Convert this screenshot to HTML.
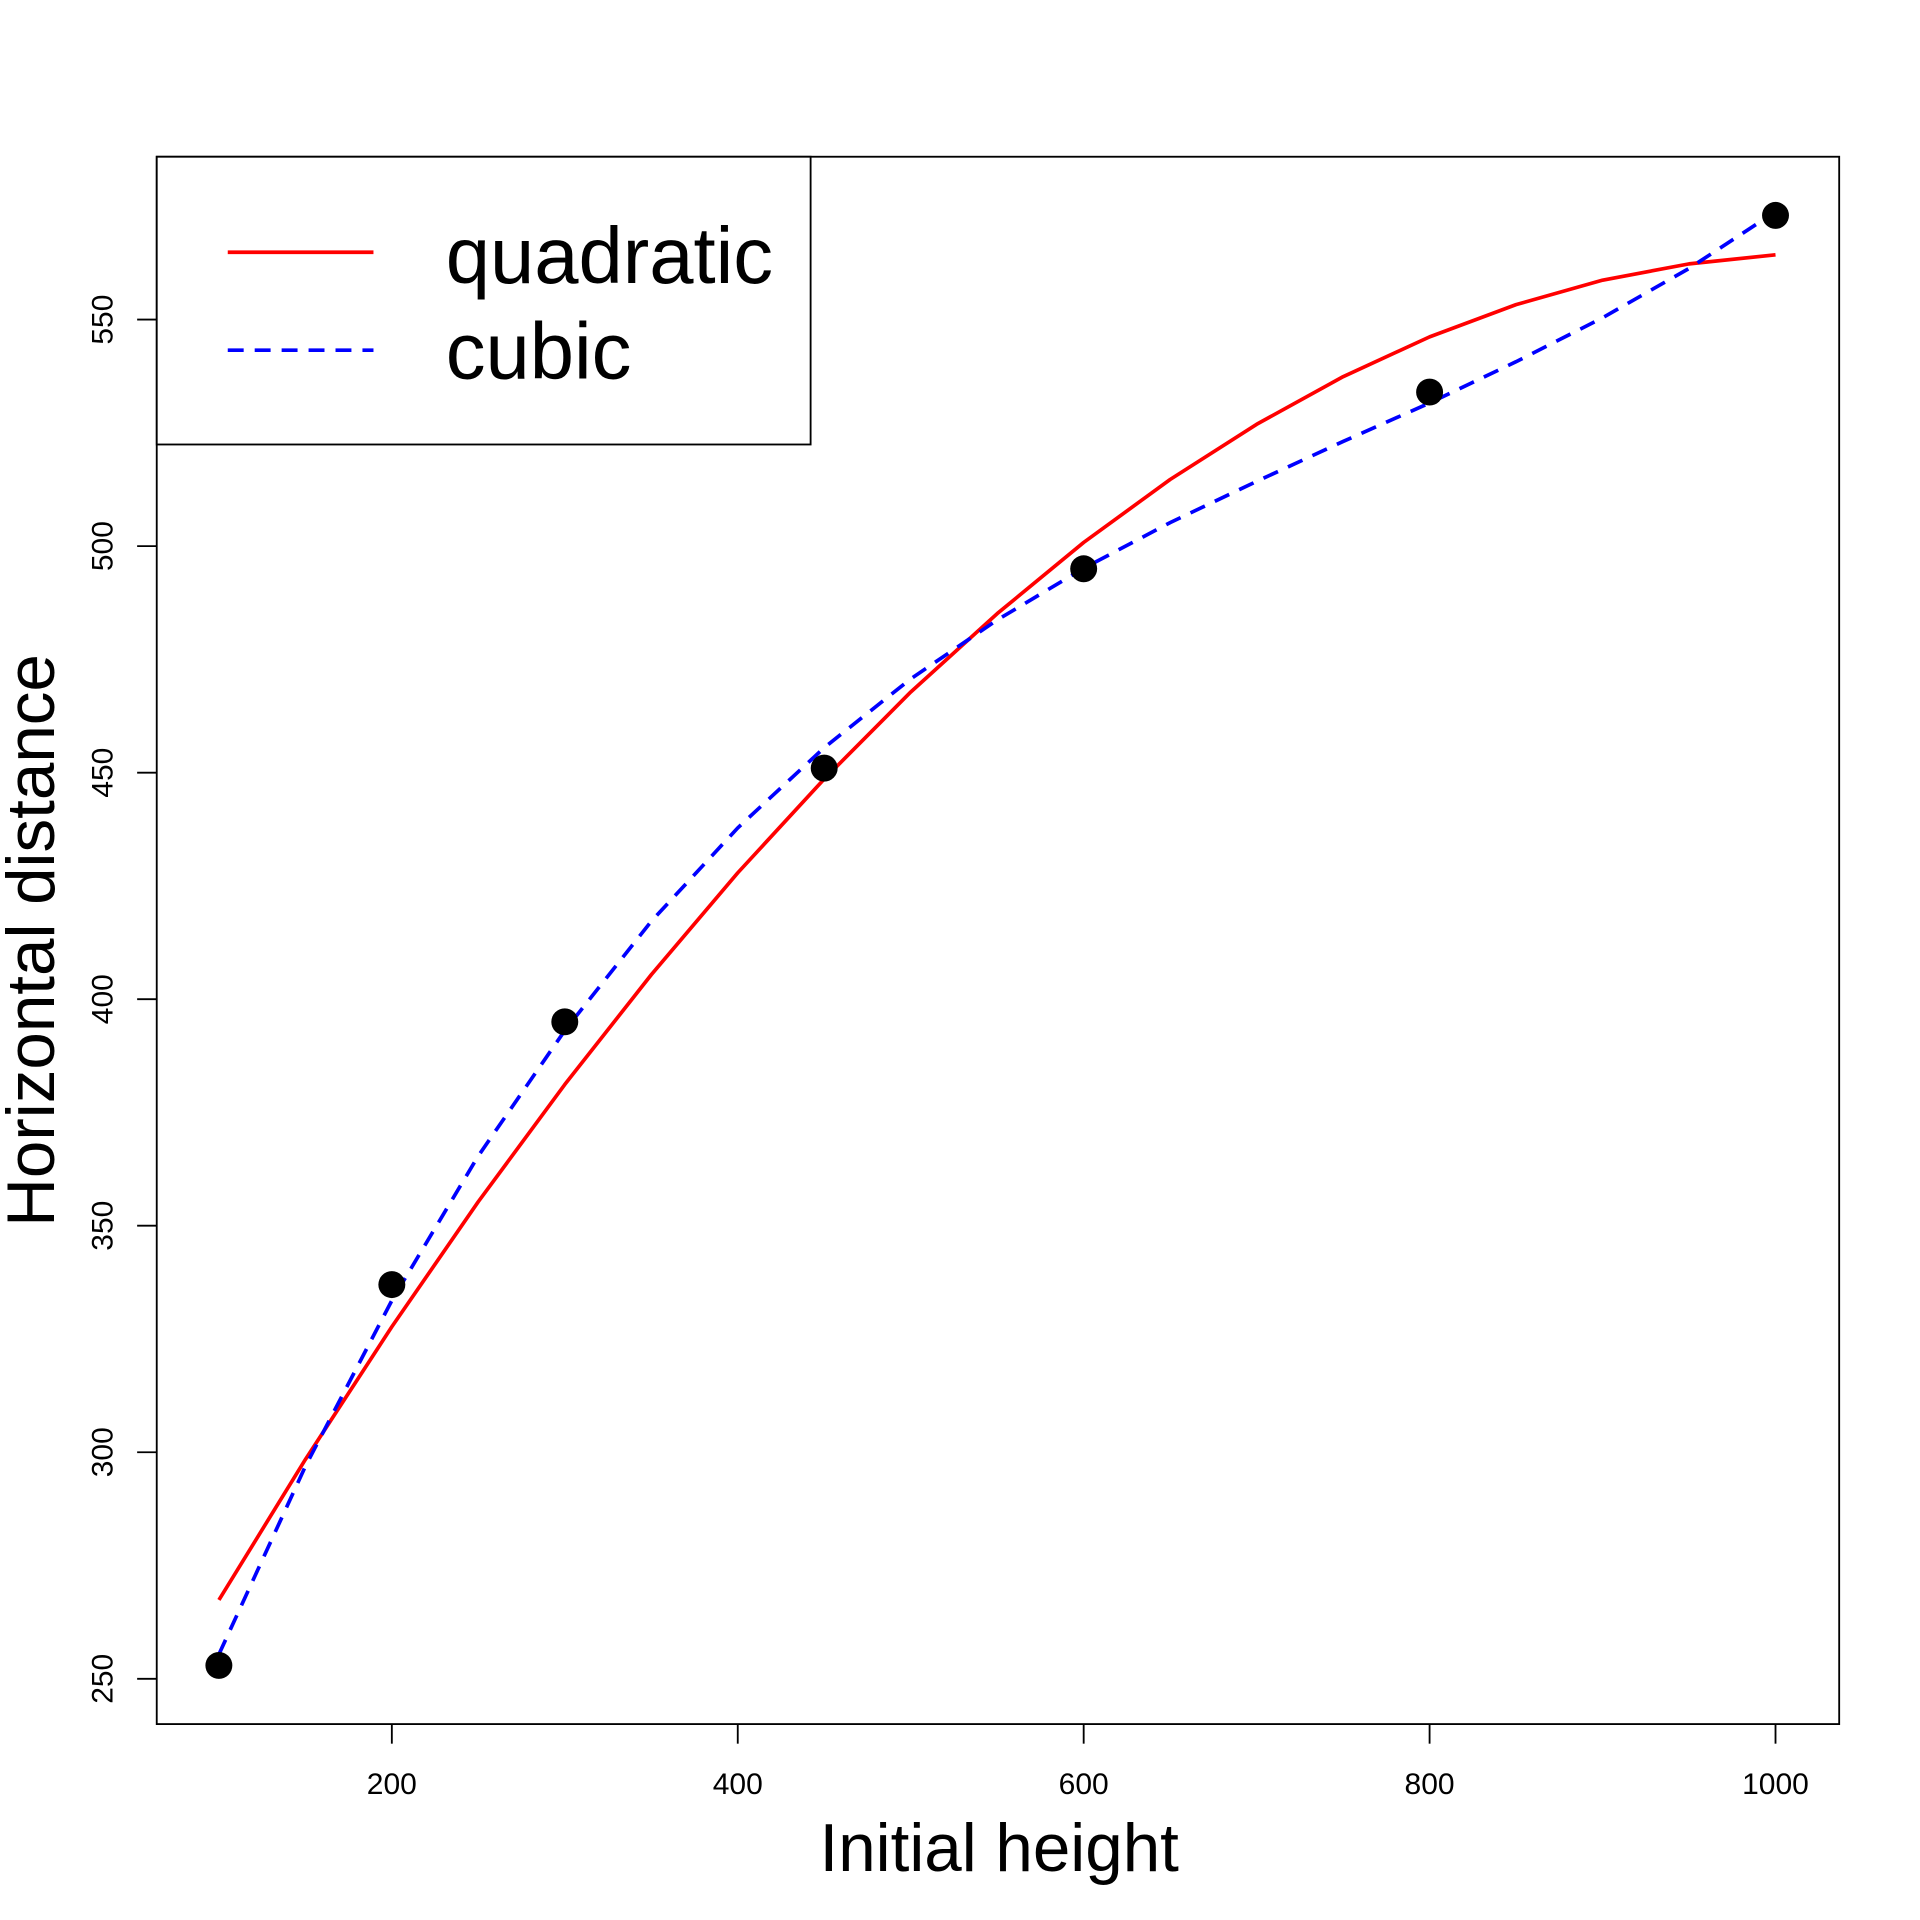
<!DOCTYPE html>
<html><head><meta charset="utf-8"><style>html,body{margin:0;padding:0;background:#fff}svg{display:block}</style></head>
<body>
<svg width="1920" height="1920" viewBox="0 0 1568 1568" xmlns="http://www.w3.org/2000/svg" font-family="Liberation Sans, Arial, sans-serif">
<rect width="1568" height="1568" fill="#fff"/>
<rect x="128" y="128" width="1374" height="1280" fill="none" stroke="#000" stroke-width="1.5"/>
<g stroke="#000" stroke-width="1.5">
<line x1="320" y1="1408" x2="320" y2="1424"/><line x1="602.5" y1="1408" x2="602.5" y2="1424"/><line x1="885" y1="1408" x2="885" y2="1424"/><line x1="1167.5" y1="1408" x2="1167.5" y2="1424"/><line x1="1450" y1="1408" x2="1450" y2="1424"/>
<line x1="112" y1="1371" x2="128" y2="1371"/><line x1="112" y1="1186" x2="128" y2="1186"/><line x1="112" y1="1001" x2="128" y2="1001"/><line x1="112" y1="816" x2="128" y2="816"/><line x1="112" y1="631" x2="128" y2="631"/><line x1="112" y1="446" x2="128" y2="446"/><line x1="112" y1="261" x2="128" y2="261"/>
</g>
<g font-size="24.5" text-anchor="middle" fill="#000">
<text x="320" y="1465">200</text><text x="602.5" y="1465">400</text><text x="885" y="1465">600</text><text x="1167.5" y="1465">800</text><text x="1450" y="1465">1000</text>
<g transform="translate(92,0)">
<text transform="translate(0,1371) rotate(-90)">250</text><text transform="translate(0,1186) rotate(-90)">300</text><text transform="translate(0,1001) rotate(-90)">350</text><text transform="translate(0,816) rotate(-90)">400</text><text transform="translate(0,631) rotate(-90)">450</text><text transform="translate(0,446) rotate(-90)">500</text><text transform="translate(0,261) rotate(-90)">550</text>
</g>
</g>
<text x="816" y="1528" font-size="55" text-anchor="middle">Initial height</text>
<text transform="translate(44,768) rotate(-90)" font-size="55" text-anchor="middle">Horizontal distance</text>
<polyline fill="none" stroke="#f00" stroke-width="3" stroke-linejoin="round" points="178.8,1306.6 249.4,1191.9 320,1083.5 390.6,981.4 461.3,885.6 531.9,796 602.5,712.8 673.1,636.2 743.8,565.1 814.4,501.1 885,443 955.6,391.6 1026.3,346.5 1096.9,307.6 1167.5,275.1 1238.1,248.8 1308.8,228.8 1379.4,215.5 1450,208.1"/>
<polyline fill="none" stroke="#00f" stroke-width="3" stroke-dasharray="13,9" points="178.8,1351 249.4,1197.5 320,1062.1 390.6,944 461.3,841.5 531.9,752.4 602.5,676.1 673.1,610.6 743.8,554.4 814.4,506.3 885,464.1 955.6,426.8 1026.3,393.1 1096.9,360.5 1167.5,329.1 1238.1,295.4 1308.8,259.5 1379.4,219.2 1450,172.9"/>
<g fill="#000">
<circle cx="178.75" cy="1360.1" r="11"/><circle cx="320" cy="1049.1" r="11"/><circle cx="461.25" cy="834.5" r="11"/><circle cx="673.1" cy="627.3" r="11"/><circle cx="885" cy="464.5" r="11"/><circle cx="1167.5" cy="320.2" r="11"/><circle cx="1450" cy="175.9" r="11"/>
</g>
<rect x="128" y="128" width="534" height="235" fill="#fff" stroke="#000" stroke-width="1.5"/>
<line x1="186" y1="206" x2="305" y2="206" stroke="#f00" stroke-width="3"/>
<line x1="186" y1="286" x2="305" y2="286" stroke="#00f" stroke-width="3" stroke-dasharray="13,9"/>
<text x="364" y="231" font-size="65">quadratic</text>
<text x="364" y="309" font-size="65">cubic</text>
</svg>
</body></html>
